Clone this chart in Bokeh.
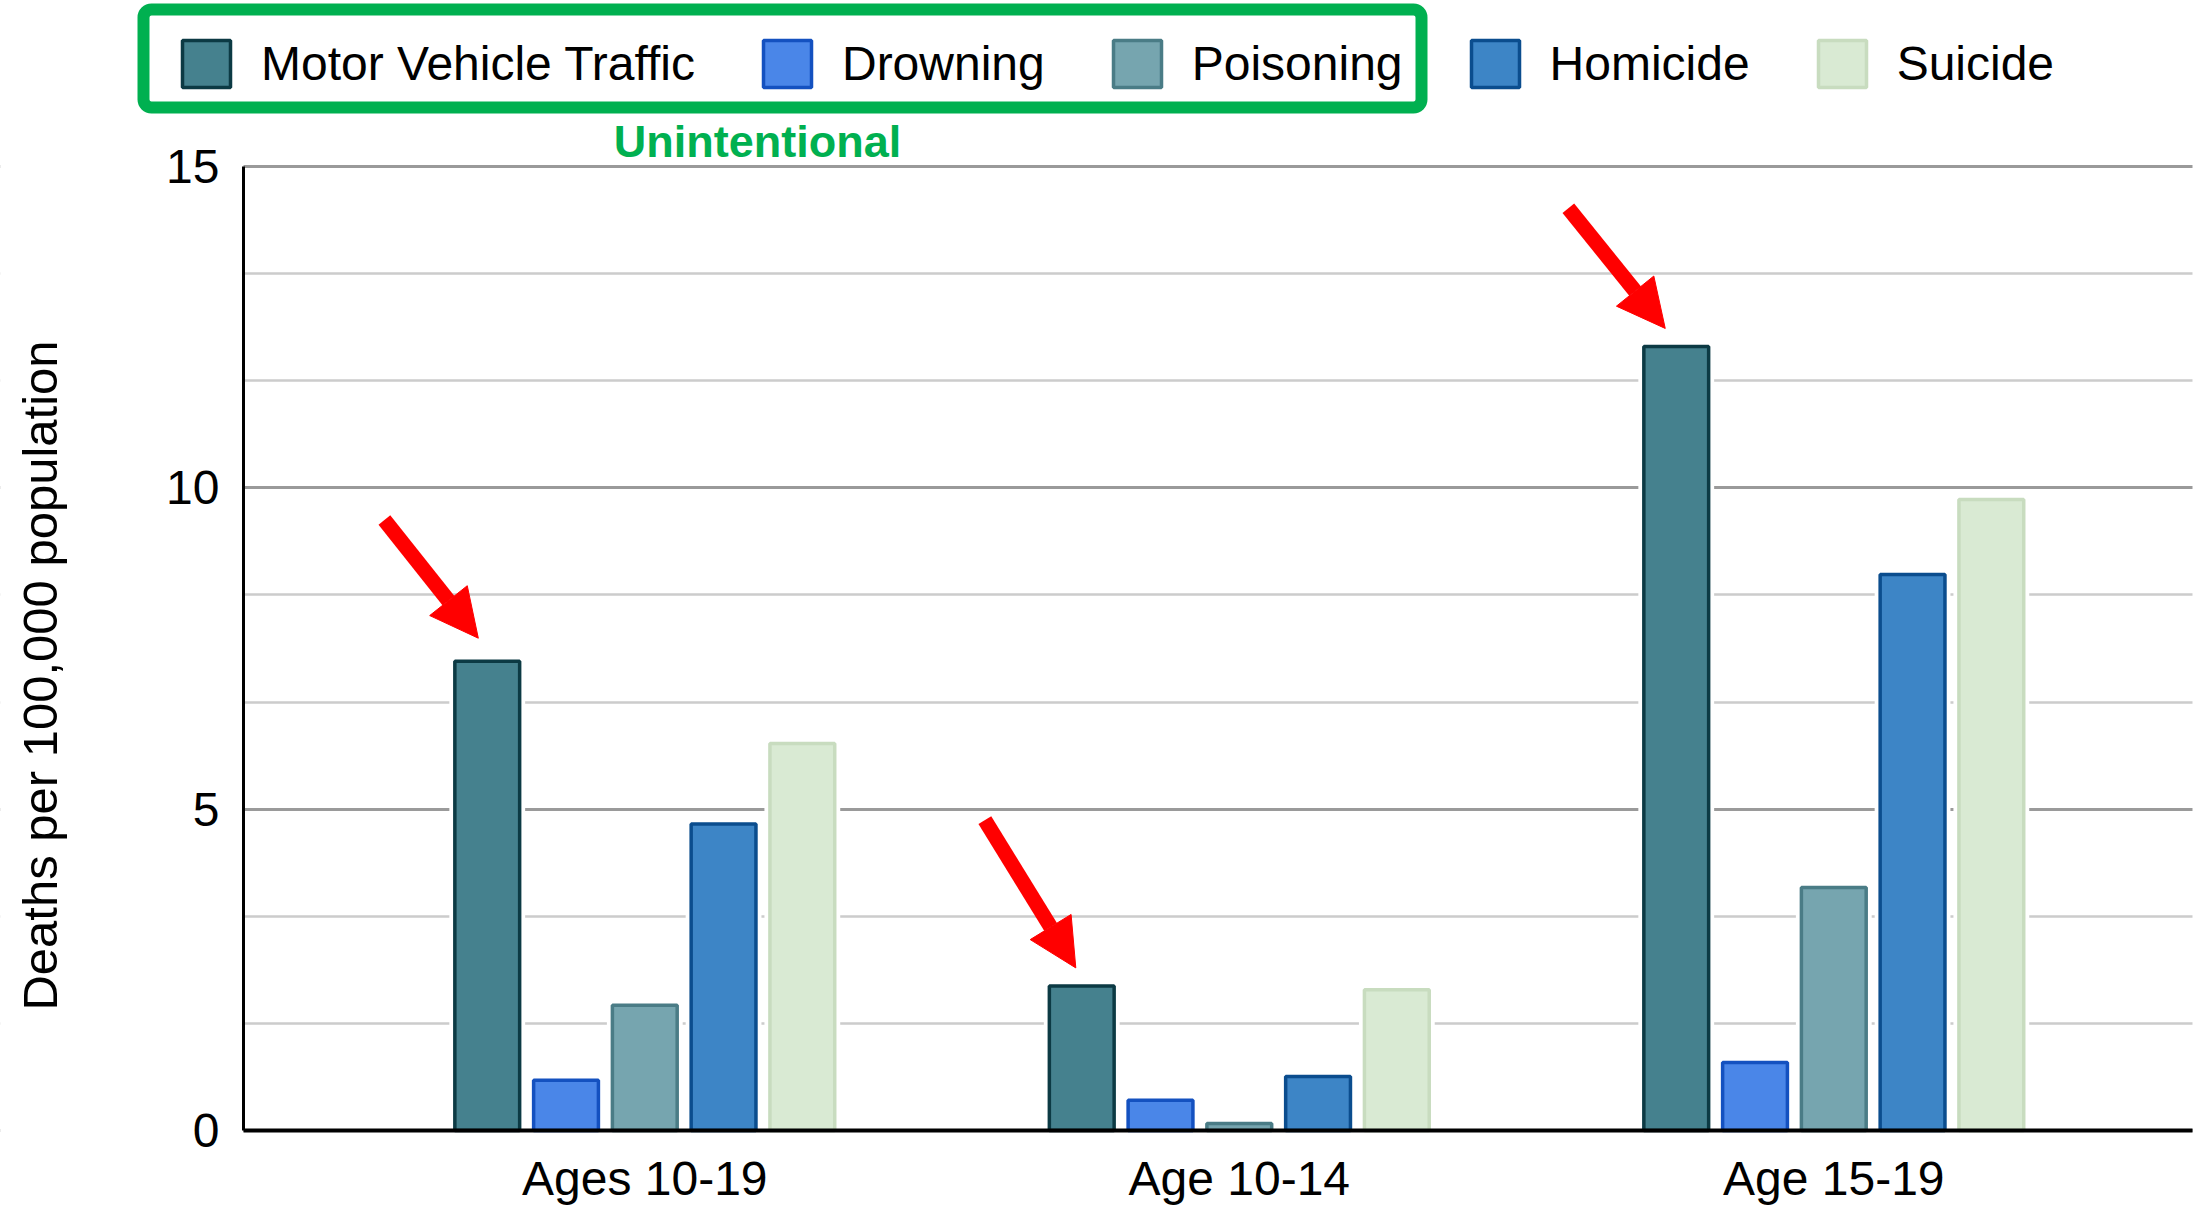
import math
from bokeh.plotting import figure
from bokeh.models import (Range1d, FixedTicker, Legend, LegendItem, Arrow, NormalHead,
                          Label, BoxAnnotation, ColumnDataSource)
from bokeh.embed import file_html
from bokeh.resources import INLINE

# ---------------- data ----------------
categories = ["Ages 10-19", "Age 10-14", "Age 15-19"]
series = ["Motor Vehicle Traffic", "Drowning", "Poisoning", "Homicide", "Suicide"]
motor_vehicle = [7.3, 2.25, 12.2]
drowning = [0.78, 0.47, 1.06]
poisoning = [1.95, 0.11, 3.78]
homicide = [4.77, 0.84, 8.65]
suicide = [6.02, 2.19, 9.82]
y_ticks = [0, 5, 10, 15]
y_minor_ticks = [5 / 3, 10 / 3, 20 / 3, 25 / 3, 35 / 3, 40 / 3]
values = [motor_vehicle, drowning, poisoning, homicide, suicide]

fills = ["#45818e", "#4a86e8", "#76a5af", "#3d85c6", "#d9ead3"]
borders = ["#0c3a44", "#1451c0", "#4a7c86", "#0b4d8e", "#c8dcbf"]

FONT = "Liberation Sans"

# geometry of the plotting area
W, H = 2206, 1206
PX_X = 594.5                 # pixels per category step
PX_Y = 964 / 15              # pixels per unit of value
AXIS_PX, BASE_PX, RIGHT_PX = 243, 1130, 2192
AXIS_X = -0.675
X0 = AXIS_X - AXIS_PX / PX_X
X1 = X0 + W / PX_X
X_RIGHT = X0 + RIGHT_PX / PX_X
Y0 = -(H - BASE_PX) / PX_Y
Y1 = BASE_PX / PX_Y

p = figure(frame_width=W, frame_height=H,
           min_border_left=0, min_border_top=0, min_border_right=0, min_border_bottom=0,
           x_range=Range1d(X0, X1), y_range=Range1d(Y0, Y1),
           output_backend="svg", toolbar_location=None)
p.outline_line_color = None
p.background_fill_color = "white"
p.border_fill_color = "white"

step = 0.1325
bar_w = 0.109

sources = []
for i, vals in enumerate(values):
    xs = [c + (i - 2) * step for c in range(len(categories))]
    sources.append(ColumnDataSource(dict(x=xs, top=vals)))

# white halo behind bars (gaps in grid lines)
for src in sources:
    p.vbar(x="x", top="top", bottom=0, width=bar_w, source=src,
           fill_color="white", line_color="white", line_width=11)

renderers = []
for i, src in enumerate(sources):
    r = p.vbar(x="x", top="top", bottom=0, width=bar_w, source=src,
               fill_color=fills[i], line_color=borders[i], line_width=3.5)
    renderers.append(r)

# ---------------- axes ----------------
xax = p.xaxis[0]
xax.fixed_location = 0
xax.ticker = FixedTicker(ticks=list(range(len(categories))))
xax.major_label_overrides = {i: c for i, c in enumerate(categories)}
xax.bounds = (AXIS_X, X_RIGHT)
xax.major_tick_line_color = None
xax.minor_tick_line_color = None
xax.axis_line_color = "black"
xax.axis_line_width = 4
xax.major_label_text_font = FONT
xax.major_label_text_font_size = "48px"
xax.major_label_text_color = "black"
xax.major_label_standoff = 15

yax = p.yaxis[0]
yax.fixed_location = AXIS_X
yax.bounds = (0, 15)
yax.ticker = FixedTicker(ticks=y_ticks, minor_ticks=y_minor_ticks)
yax.major_tick_line_color = None
yax.minor_tick_line_color = None
yax.axis_line_color = "black"
yax.axis_line_width = 3
yax.major_label_text_font = FONT
yax.major_label_text_font_size = "48px"
yax.major_label_text_color = "black"
yax.major_label_standoff = 18

p.xgrid.visible = False
p.ygrid.ticker = FixedTicker(ticks=y_ticks, minor_ticks=y_minor_ticks)
p.ygrid.grid_line_color = "#9a9a9a"
p.ygrid.grid_line_width = 3
p.ygrid.minor_grid_line_color = "#cccccc"
p.ygrid.minor_grid_line_width = 2.5

# hide grid lines outside the plotting area
p.add_layout(BoxAnnotation(right=AXIS_X, fill_color="white", fill_alpha=1,
                           line_alpha=0, level="underlay"))
p.add_layout(BoxAnnotation(left=X_RIGHT, fill_color="white", fill_alpha=1,
                           line_alpha=0, level="underlay"))

# value-axis title
p.add_layout(Label(x=39, y=675, x_units="canvas", y_units="canvas",
                   text="Deaths per 100,000 population", angle=math.pi / 2,
                   text_align="center", text_baseline="middle", text_color="black",
                   text_font=FONT, text_font_size="49px"))

# ---------------- legend ----------------
items = [LegendItem(label=name, renderers=[r]) for name, r in zip(series, renderers)]
legend = Legend(items=items, orientation="horizontal", location=(176, H - 93),
                label_text_font=FONT, label_text_font_size="48px", label_text_color="black",
                glyph_width=60, glyph_height=59, label_standoff=25, spacing=62,
                padding=0, margin=0, border_line_color=None, background_fill_alpha=0)
p.add_layout(legend)

box = BoxAnnotation(left=143, right=1421, top=9, bottom=107,
                    left_units="canvas", right_units="canvas",
                    top_units="canvas", bottom_units="canvas",
                    fill_alpha=0, fill_color=None, line_color="#00b050", line_alpha=1,
                    line_width=12, border_radius=8)
p.add_layout(box)

p.add_layout(Label(x=757, y=141, x_units="canvas", y_units="canvas", text="Unintentional",
                   text_align="center", text_baseline="middle", text_color="#00b050",
                   text_font=FONT, text_font_style="bold", text_font_size="45px"))

# ---------------- arrows pointing at motor vehicle bars ----------------
tip_offsets = [(-0.015, 0.36), (-0.010, 0.28), (-0.0185, 0.28)]
tail_offsets = [(-0.158, 1.84), (-0.153, 2.30), (-0.163, 1.87)]
for c, v in enumerate(motor_vehicle):
    bx = c - 2 * step
    tx, ty = bx + tip_offsets[c][0], v + tip_offsets[c][1]
    sx, sy = tx + tail_offsets[c][0], ty + tail_offsets[c][1]
    p.add_layout(Arrow(x_start=sx, y_start=sy, x_end=tx, y_end=ty,
                       line_color="#ff0000", line_width=15,
                       end=NormalHead(size=48, fill_color="#ff0000", line_color="#ff0000",
                                      line_width=1)))

open("out.html", "w").write(file_html(p, INLINE))
